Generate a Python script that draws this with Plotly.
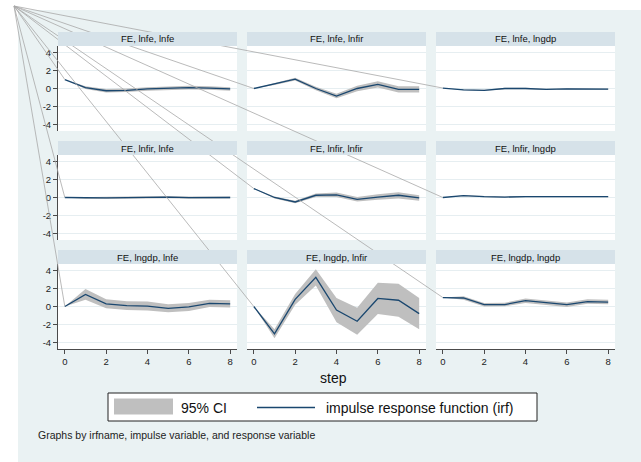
import plotly.graph_objects as go

# ---------------- data ----------------
steps = [0, 1, 2, 3, 4, 5, 6, 7, 8]
variables = ["lnfe", "lnfir", "lngdp"]   # impulse = rows, response = columns
irf_name = "FE"
x_tick_vals = [0, 2, 4, 6, 8]
x_tick_text = ["0", "2", "4", "6", "8"]
y_tick_vals = [-4, -2, 0, 2, 4]
y_tick_text = ["-4", "-2", "0", "2", "4"]

# impulse response values (irf) and 95% CI half widths
irf_lnfe_lnfe = [1.0, 0.1, -0.25, -0.2, -0.05, 0.05, 0.1, 0.05, -0.05]
ci_lnfe_lnfe = [0.0, 0.15, 0.2, 0.2, 0.2, 0.2, 0.2, 0.2, 0.2]
irf_lnfe_lnfir = [0.0, 0.5, 1.05, 0.0, -0.85, 0.0, 0.45, -0.1, -0.1]
ci_lnfe_lnfir = [0.0, 0.1, 0.15, 0.2, 0.25, 0.3, 0.35, 0.35, 0.35]
irf_lnfe_lngdp = [0.05, -0.15, -0.2, 0.0, 0.0, -0.1, -0.05, -0.03, -0.07]
ci_lnfe_lngdp = [0.0, 0.05, 0.06, 0.07, 0.07, 0.07, 0.07, 0.07, 0.07]

irf_lnfir_lnfe = [0.0, -0.05, -0.05, -0.02, 0.05, 0.05, -0.02, -0.03, 0.0]
ci_lnfir_lnfe = [0.0, 0.12, 0.12, 0.12, 0.12, 0.12, 0.12, 0.1, 0.1]
irf_lnfir_lnfir = [1.0, 0.0, -0.5, 0.25, 0.3, -0.2, 0.05, 0.25, -0.05]
ci_lnfir_lnfir = [0.0, 0.1, 0.15, 0.2, 0.25, 0.25, 0.3, 0.35, 0.3]
irf_lnfir_lngdp = [0.0, 0.2, 0.1, 0.05, 0.1, 0.1, 0.05, 0.05, 0.1]
ci_lnfir_lngdp = [0.0, 0.05, 0.06, 0.06, 0.06, 0.06, 0.06, 0.06, 0.06]

irf_lngdp_lnfe = [0.0, 1.35, 0.3, 0.1, 0.05, -0.2, -0.05, 0.35, 0.3]
ci_lngdp_lnfe = [0.0, 0.6, 0.5, 0.5, 0.5, 0.45, 0.45, 0.4, 0.4]
irf_lngdp_lnfir = [0.0, -3.05, 0.8, 3.25, -0.4, -1.65, 0.9, 0.7, -0.8]
ci_lngdp_lnfir = [0.0, 0.5, 0.6, 0.9, 1.35, 1.5, 1.75, 1.85, 1.75]
irf_lngdp_lngdp = [1.0, 0.95, 0.2, 0.22, 0.65, 0.4, 0.2, 0.55, 0.5]
ci_lngdp_lngdp = [0.0, 0.2, 0.2, 0.2, 0.25, 0.25, 0.25, 0.25, 0.25]

irf_table = {
    ("lnfe", "lnfe"): (irf_lnfe_lnfe, ci_lnfe_lnfe),
    ("lnfe", "lnfir"): (irf_lnfe_lnfir, ci_lnfe_lnfir),
    ("lnfe", "lngdp"): (irf_lnfe_lngdp, ci_lnfe_lngdp),
    ("lnfir", "lnfe"): (irf_lnfir_lnfe, ci_lnfir_lnfe),
    ("lnfir", "lnfir"): (irf_lnfir_lnfir, ci_lnfir_lnfir),
    ("lnfir", "lngdp"): (irf_lnfir_lngdp, ci_lnfir_lngdp),
    ("lngdp", "lnfe"): (irf_lngdp_lnfe, ci_lngdp_lnfe),
    ("lngdp", "lnfir"): (irf_lngdp_lnfir, ci_lngdp_lnfir),
    ("lngdp", "lngdp"): (irf_lngdp_lngdp, ci_lngdp_lngdp),
}

legend_labels = ["95% CI", "impulse response function (irf)"]
x_title = "step"
note_text = "Graphs by irfname, impulse variable, and response variable"

# ---------------- layout geometry (pixels) ----------------
W, H = 641, 462
FONT = "Liberation Sans, Arial, Helvetica, sans-serif"
BG = "#EAF2F3"
HEADER = "#D6E2E9"
GRID = "#E6EEF1"
NAVY = "#1A476F"
CI_GRAY = "#BFBFBF"
AXIS = "#4A4A4A"

col_x0 = [58, 247, 436]
panel_w = 179
row_top = [46, 155, 264]
panel_h = 85
header_h = 14
x_range = [-0.33, 8.33]
y_range = [-4.75, 4.75]
ray_origin = (14, 6)


def px(x):
    return x / W


def py(y):
    return 1 - y / H


fig = go.Figure()
shapes = []
annotations = []

# outer background region
shapes.append(dict(type="rect", xref="paper", yref="paper", x0=px(18), x1=1, y0=0, y1=py(10),
                   fillcolor=BG, line=dict(width=0), layer="below"))

layout_axes = {}
ray_x, ray_y = [], []

for r, imp in enumerate(variables):
    for c, resp in enumerate(variables):
        k = r * 3 + c + 1
        xa = "x" if k == 1 else f"x{k}"
        ya = "y" if k == 1 else f"y{k}"
        irf, hw = irf_table[(imp, resp)]
        lo = [v - h for v, h in zip(irf, hw)]
        hi = [v + h for v, h in zip(irf, hw)]

        fig.add_trace(go.Scatter(x=steps, y=lo, mode="lines", line=dict(width=0, color=CI_GRAY),
                                 xaxis=xa, yaxis=ya, showlegend=False, hoverinfo="skip"))
        fig.add_trace(go.Scatter(x=steps, y=hi, mode="lines", line=dict(width=0, color=CI_GRAY),
                                 fill="tonexty", fillcolor=CI_GRAY,
                                 xaxis=xa, yaxis=ya, showlegend=False, hoverinfo="skip"))
        fig.add_trace(go.Scatter(x=steps, y=irf, mode="lines", line=dict(width=1.3, color=NAVY),
                                 xaxis=xa, yaxis=ya, showlegend=False))

        x0p = col_x0[c]
        x1p = x0p + panel_w
        t = row_top[r]
        b = t + panel_h

        bottom_row = r == 2
        left_col = c == 0
        layout_axes["xaxis" if k == 1 else f"xaxis{k}"] = dict(
            domain=[px(x0p), px(x1p)], range=x_range, anchor=ya,
            showgrid=False, zeroline=False,
            tickvals=x_tick_vals, ticktext=x_tick_text,
            showticklabels=bottom_row, ticks="outside" if bottom_row else "",
            ticklen=4, tickwidth=1, tickcolor=AXIS,
            showline=bottom_row, linecolor=AXIS, linewidth=1,
            tickfont=dict(size=9.5, color="#222", family=FONT), fixedrange=True)
        layout_axes["yaxis" if k == 1 else f"yaxis{k}"] = dict(
            domain=[py(b), py(t)], range=y_range, anchor=xa,
            showgrid=True, gridcolor=GRID, gridwidth=1, zeroline=False,
            tickvals=y_tick_vals, ticktext=y_tick_text,
            showticklabels=left_col, ticks="outside" if left_col else "",
            ticklen=4, tickwidth=1, tickcolor=AXIS,
            showline=left_col, linecolor=AXIS, linewidth=1,
            tickfont=dict(size=9.5, color="#222", family=FONT), fixedrange=True)

        # white plot region
        shapes.append(dict(type="rect", xref="paper", yref="paper", x0=px(x0p), x1=px(x1p),
                           y0=py(b), y1=py(t), fillcolor="white", line=dict(width=0), layer="below"))
        # header strip
        shapes.append(dict(type="rect", xref="paper", yref="paper", x0=px(x0p), x1=px(x1p),
                           y0=py(t), y1=py(t - header_h), fillcolor=HEADER, line=dict(width=0),
                           layer="above"))
        annotations.append(dict(text=f"{irf_name}, {imp}, {resp}", xref="paper", yref="paper",
                                x=px((x0p + x1p) / 2), y=py(t - header_h / 2), showarrow=False,
                                xanchor="center", yanchor="middle",
                                font=dict(size=9.5, color="#111", family=FONT)))

        # stray ray from the corner to the first point (mapped through this panel's scales)
        fx = x0p + (steps[0] - x_range[0]) / (x_range[1] - x_range[0]) * panel_w
        fy = b - (irf[0] - y_range[0]) / (y_range[1] - y_range[0]) * panel_h
        ray_x += [ray_origin[0], fx, None]
        ray_y += [ray_origin[1], fy, None]

# overlay pixel axis for the rays
fig.add_trace(go.Scatter(x=ray_x, y=ray_y, mode="lines", line=dict(width=0.8, color="#A8A8A8"),
                         xaxis="x10", yaxis="y10", showlegend=False, hoverinfo="skip"))
layout_axes["xaxis10"] = dict(domain=[0, 1], range=[0, W], anchor="y10", visible=False, fixedrange=True)
layout_axes["yaxis10"] = dict(domain=[0, 1], range=[H, 0], anchor="x10", visible=False, fixedrange=True)

# x title
annotations.append(dict(text=x_title, xref="paper", yref="paper", x=px(333), y=py(378),
                        showarrow=False, xanchor="center", yanchor="middle",
                        font=dict(size=14, color="#111", family=FONT)))

# legend box
shapes.append(dict(type="rect", xref="paper", yref="paper", x0=px(108), x1=px(537),
                   y0=py(421), y1=py(393), fillcolor="white", line=dict(width=1, color="#222"),
                   layer="above"))
shapes.append(dict(type="rect", xref="paper", yref="paper", x0=px(114), x1=px(173),
                   y0=py(414.5), y1=py(398.5), fillcolor=CI_GRAY, line=dict(width=0), layer="above"))
shapes.append(dict(type="line", xref="paper", yref="paper", x0=px(257), x1=px(315),
                   y0=py(407.5), y1=py(407.5), line=dict(width=1.3, color=NAVY), layer="above"))
annotations.append(dict(text=legend_labels[0], xref="paper", yref="paper", x=px(179), y=py(407.5),
                        showarrow=False, xanchor="left", yanchor="middle",
                        font=dict(size=14, color="#111", family=FONT)))
annotations.append(dict(text=legend_labels[1], xref="paper", yref="paper", x=px(324), y=py(407.5),
                        showarrow=False, xanchor="left", yanchor="middle",
                        font=dict(size=14, color="#111", family=FONT)))

# note
annotations.append(dict(text=note_text, xref="paper", yref="paper", x=px(36), y=py(435),
                        showarrow=False, xanchor="left", yanchor="middle",
                        font=dict(size=10.5, color="#222", family=FONT)))

fig.update_layout(
    width=W, height=H, margin=dict(l=0, r=0, t=0, b=0, pad=0),
    paper_bgcolor="white", plot_bgcolor="rgba(0,0,0,0)",
    showlegend=False, shapes=shapes, annotations=annotations,
    font=dict(family=FONT), hovermode=False,
    **layout_axes,
)

fig.write_html("out.html", config={"displayModeBar": False})
